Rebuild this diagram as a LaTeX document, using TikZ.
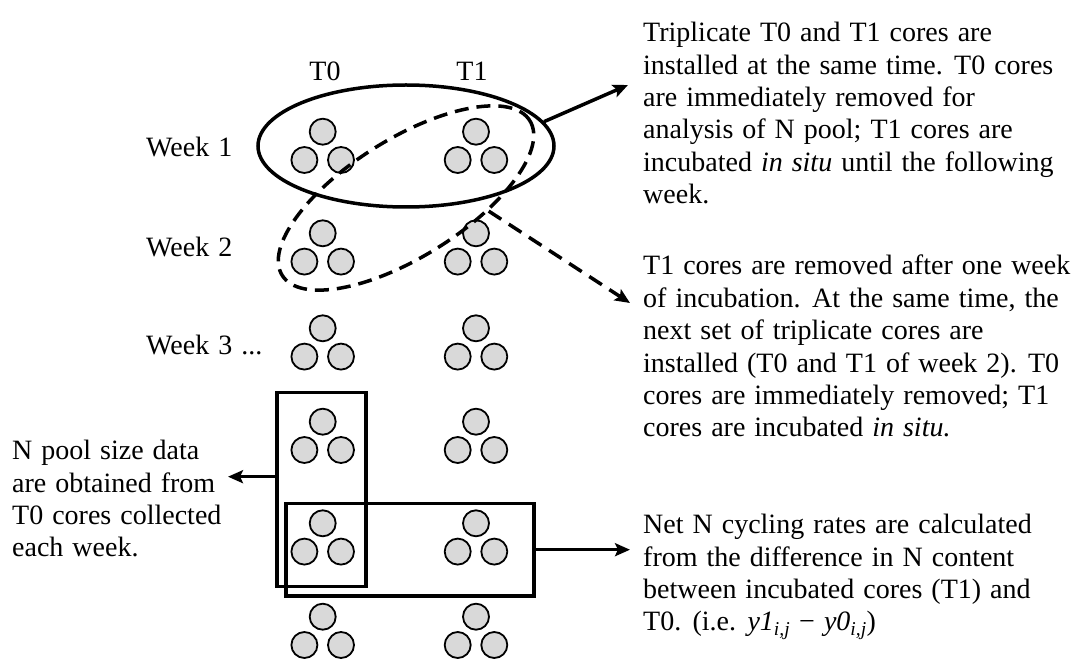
\documentclass[tikz,border=0pt]{standalone}
\usepackage{fontspec}
\setmainfont{Liberation Serif}
\usetikzlibrary{shapes.geometric,arrows.meta}
\definecolor{coregray}{RGB}{217,217,217}
\newcommand{\labelfont}{\fontsize{28}{32.4}\selectfont\spaceskip=9pt plus 3pt minus 1pt\relax}

\begin{document}
\begin{tikzpicture}[x=1pt,y=-1pt,every node/.style={font=\labelfont}]
      \useasboundingbox (0,0) rectangle (1074,660);
      \tikzstyle {core} = [circle, draw=black, line width=1.8pt, fill=coregray, minimum size=26pt, inner sep=0pt];
      \tikzstyle {ring} = [ellipse, draw=black, line width=3.5pt, inner sep=0pt];
      \tikzstyle {box} = [draw=black, line width=3.5pt, inner sep=0pt];
      \tikzstyle {note} = [align=left, anchor=north west, inner sep=0pt];
      \tikzstyle {tip} = [-{Stealth[length=15pt,width=13pt,inset=3pt]}, line width=3.5pt];
      \foreach \row/\y in {1/131.7,2/233.3,3/328.3,4/421.7,5/523.3,6/616.7} {
        \foreach \col/\x in {0/322.7,1/476} {
          \node (c\col\row-a) [core] at (\x,\y) {};
          \node (c\col\row-b) [core] at (\x-18.3,\y+28.3) {};
          \node (c\col\row-c) [core] at (\x+18.3,\y+28.3) {};
        }
      }
      \node (lt0) at (325,71.7) {T0};
      \node (lt1) at (472,71.7) {T1};
      \node (wk1) [anchor=west] at (142.7,146.7) {Week 1};
      \node (wk2) [anchor=west] at (142.7,246.7) {Week 2};
      \node (wk3) [anchor=west] at (142.7,345) {Week 3 ...};
      \node (same) [ring, minimum width=296pt, minimum height=122pt] at (406,146) {};
      \node (next) [ring, dash pattern=on 14pt off 8pt, rotate=32, minimum width=292pt, minimum height=118pt] at (406,198) {};
      \node (pool) [box, minimum width=89pt, minimum height=194pt] at (321.3,489.7) {};
      \node (rate) [box, minimum width=248pt, minimum height=92.7pt] at (410,549.7) {};
      \node (txtsame) [note] at (643,22) {Triplicate T0 and T1 cores are\\installed at the same time. T0 cores\\are immediately removed for\\analysis of N pool; T1 cores are\\incubated \emph{in situ} until the following\\week.};
      \node (txtnext) [note] at (643,255) {T1 cores are removed after one week\\of incubation. At the same time, the\\next set of triplicate cores are\\installed (T0 and T1 of week 2). T0\\cores are immediately removed; T1\\cores are incubated \emph{in situ.}};
      \node (txtpool) [note] at (12,440) {N pool size data\\are obtained from\\T0 cores collected\\each week.};
      \node (txtrate) [note] at (643,514) {Net N cycling rates are calculated\\from the difference in N content\\between incubated cores (T1) and\\T0. (i.e. \textit{y1}\textsubscript{\textit{i,j}} − \textit{y0}\textsubscript{\textit{i,j}})};
      \coordinate (sametip) at (628,85);
      \coordinate (nexttip) at (630,303);
      \coordinate (pooltip) at (228,476.7);
      \coordinate (ratetip) at (630,549.7);
      \draw [tip] (same.10) -- (sametip);
      \draw [tip, dash pattern=on 15pt off 9pt] (next.-41) -- (nexttip);
      \draw [tip] (pool.west |- pooltip) -- (pooltip);
      \draw [tip] (rate.east) -- (ratetip);
    \end{tikzpicture}
\end{document}
